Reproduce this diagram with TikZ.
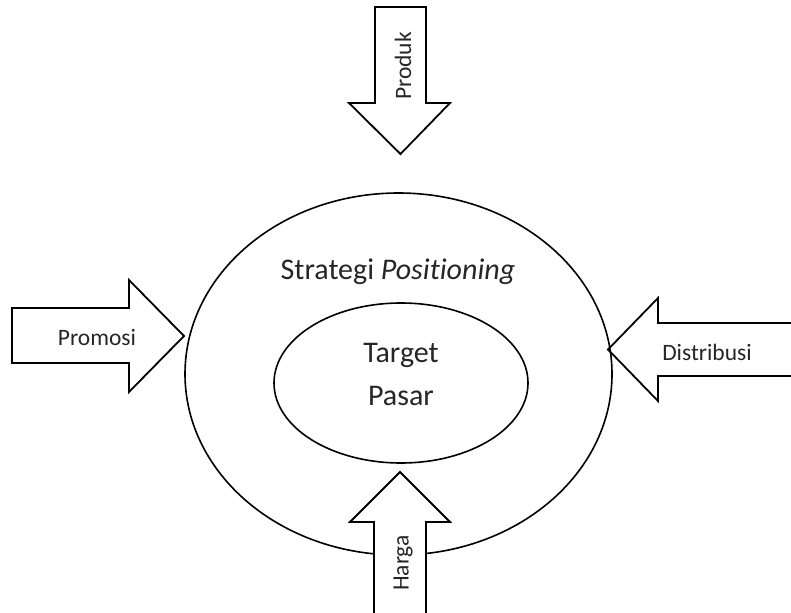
\documentclass[tikz,border=0pt]{standalone}
\usepackage{fontspec}
\setmainfont[Ligatures={NoCommon}]{Carlito}
\begin{document}
\begin{tikzpicture}[x=1pt,y=-1pt,
  outline/.style={draw=black,line width=1.8pt,line join=miter},
  blockarrow/.style={outline,fill=white},
  ring/.style={draw=black,line width=1.6pt},
  biglabel/.style={font=\fontsize{30}{36}\selectfont,text=black!85,inner sep=0pt},
  smalllabel/.style={font=\fontsize{23.5}{28}\selectfont,text=black!85,inner sep=0pt}]
\useasboundingbox (0,0) rectangle (791,612);
\begin{scope}
\clip (0,0) rectangle (791,612);

% Promosi: arrow from the left
\draw[blockarrow] (12,308) -- (129,308) -- (129,280) -- (184,336)
  -- (129,392) -- (129,363) -- (12,363) -- cycle;
\node[smalllabel] (promosi) at (97,337) {Promosi};

% Distribusi: arrow from the right
\draw[blockarrow] (810,323) -- (658,323) -- (658,298) -- (608,349.5)
  -- (658,401) -- (658,376) -- (810,376) -- cycle;
\node[smalllabel] (distribusi) at (707,352) {Distribusi};

% Produk: arrow from the top
\draw[blockarrow] (375,7) -- (426,7) -- (426,103) -- (450,103)
  -- (400.5,154) -- (349,103) -- (375,103) -- cycle;
\node[smalllabel,rotate=90] (produk) at (403,66) {Produk};

% Strategi positioning and target market
\draw[ring] (398.5,374) ellipse [x radius=213.5, y radius=181];
\node[biglabel] (strategi) at (398,272) {Strategi \textit{Positioning}};
\draw[ring] (401,383) ellipse [x radius=127, y radius=80];
\node[biglabel] (target) at (401,355) {Target};
\node[biglabel] (pasar) at (401,396) {Pasar};

% Harga: arrow from the bottom
\draw[blockarrow] (374,630) -- (374,522) -- (350,522) -- (400,472)
  -- (450,522) -- (426,522) -- (426,630) -- cycle;
\node[smalllabel,rotate=90] (harga) at (403,563) {Harga};
\end{scope}
\end{tikzpicture}
\end{document}
